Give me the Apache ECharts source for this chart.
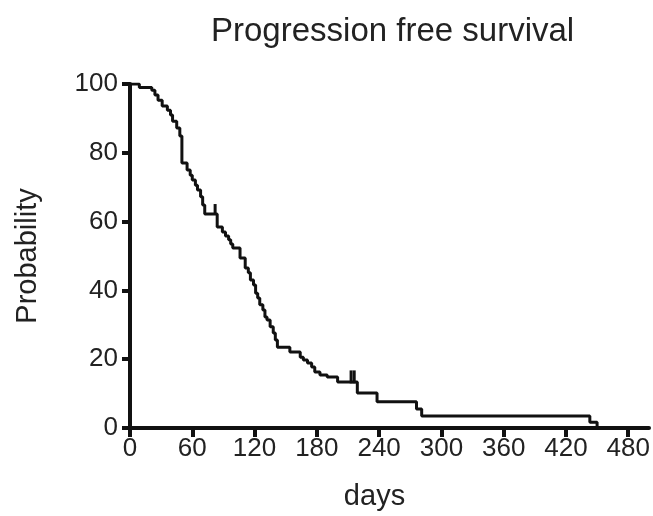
<!DOCTYPE html>
<html>
<head>
<meta charset="utf-8">
<title>Progression free survival</title>
<script src="https://cdn.jsdelivr.net/npm/echarts@6/dist/echarts.min.js"></script>
<style>
  html, body { margin: 0; padding: 0; background: #fff; }
  #main { width: 653px; height: 516px; }
</style>
</head>
<body>
<div id="main"></div>
<script>
// Kaplan-Meier curve (days, % progression free)
var days = [0, 9, 21, 24, 27, 31, 36, 39, 41, 45, 48, 50, 55, 58, 60, 63, 65, 68, 70, 72,
  84, 89, 92, 95, 97, 99, 106, 111, 114, 116, 119, 121, 123, 125, 128, 130, 132, 135, 138, 140, 142,
  154, 164, 167, 171, 175, 178, 183, 190, 200, 219, 238, 276, 281, 443, 450];
var survival = [100, 99, 98.2, 96.8, 95.3, 93.6, 92.4, 91, 89.2, 87.2, 84.9, 77, 75, 73.5, 72.1, 70.6, 69.2, 67.2, 64.8, 62.2,
  58.4, 57, 55.8, 54.7, 53.5, 52.3, 49.4, 46.5, 45.1, 43, 41.6, 39.2, 37.8, 35.8, 34.3, 32.3, 31.4, 29.4, 27.6, 25.6, 23.5,
  22.1, 20.6, 19.8, 18.9, 17.7, 16.3, 15.4, 14.8, 13.4, 10.2, 7.6, 5.5, 3.5, 1.7, 0];
// censored patients (tick marks)
var censorDays = [82, 213, 216];
var censorSurvival = [62.2, 13.4, 13.4];

var dayTicks = [0, 60, 120, 180, 240, 300, 360, 420, 480];
var probTicks = [0, 20, 40, 60, 80, 100];

var font = "'Liberation Sans', Arial, Helvetica, sans-serif";

var curve = days.map(function (d, i) { return [d, survival[i]]; });
var censored = censorDays.map(function (d, i) { return [d, censorSurvival[i]]; });

var myChart = echarts.init(document.getElementById('main'));
myChart.setOption({
  backgroundColor: '#fff',
  animation: false,
  title: {
    text: 'Progression free survival',
    left: 206,
    top: 10,
    textStyle: { fontFamily: font, fontSize: 33, fontWeight: 'normal', color: '#222' }
  },
  grid: { left: 130, right: 4, top: 84, bottom: 88 },
  xAxis: {
    type: 'value',
    min: 0,
    max: 500,
    name: 'days',
    nameLocation: 'middle',
    nameGap: 54,
    nameTextStyle: { fontFamily: font, fontSize: 29, color: '#222', padding: [0, 30, 0, 0] },
    axisLine: { lineStyle: { color: '#111', width: 4 } },
    axisTick: { length: 9, lineStyle: { color: '#111', width: 4 }, customValues: dayTicks },
    axisLabel: { margin: 8, fontFamily: font, fontSize: 26, color: '#222', customValues: dayTicks },
    splitLine: { show: false }
  },
  yAxis: {
    type: 'value',
    min: probTicks[0],
    max: probTicks[probTicks.length - 1],
    interval: 20,
    name: 'Probability',
    nameLocation: 'middle',
    nameGap: 88,
    nameTextStyle: { fontFamily: font, fontSize: 29, color: '#222' },
    axisLine: { lineStyle: { color: '#111', width: 4 } },
    axisTick: { length: 8, lineStyle: { color: '#111', width: 4 } },
    axisLabel: { margin: 12, fontFamily: font, fontSize: 26, color: '#222' },
    splitLine: { show: false }
  },
  series: [
    {
      type: 'line',
      step: 'end',
      data: curve,
      showSymbol: false,
      lineStyle: { color: '#111', width: 3 }
    },
    {
      type: 'scatter',
      data: censored,
      symbol: 'rect',
      symbolSize: function (v) { return v[1] > 50 ? [3, 10] : [3, 13]; },
      symbolOffset: [0, -5],
      itemStyle: { color: '#111', opacity: 1 }
    }
  ]
});
</script>
</body>
</html>
